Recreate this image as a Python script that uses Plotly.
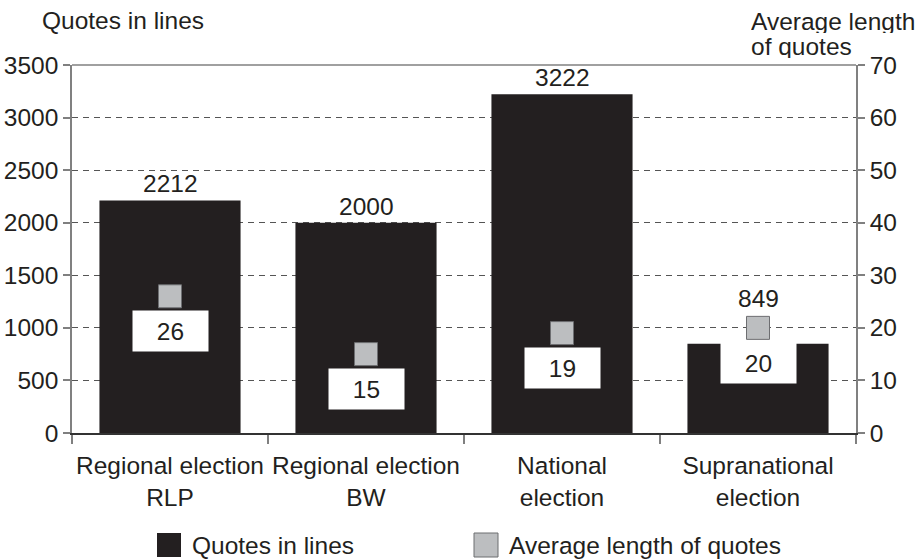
import plotly.graph_objects as go

categories = ["Regional election<br>RLP", "Regional election<br>BW", "National<br>election", "Supranational<br>election"]
quotes_in_lines = [2212, 2000, 3222, 849]
avg_length = [26, 15, 19, 20]

left_ticks = [0, 500, 1000, 1500, 2000, 2500, 3000, 3500]
right_ticks = [0, 10, 20, 30, 40, 50, 60, 70]

FONT = "Liberation Sans, Arial, Helvetica, sans-serif"
FS = 24.5
BAR_COLOR = "#231f20"
SQ_FILL = "#bcbec0"
SQ_LINE = "#6d6e71"
SQ_SIZE = 23

W, H = 923, 559
L, R, T, B = 72, 67, 65, 126
PW, PH = W - L - R, H - T - B
Y1MAX, Y2MAX = 3500, 70

def px(x):
    return (x - L) / PW

def py(y):
    return (H - B - y) / PH

fig = go.Figure()

fig.add_trace(go.Bar(
    x=categories, y=quotes_in_lines, width=0.72,
    marker=dict(color=BAR_COLOR, line=dict(width=0)),
    showlegend=False, yaxis="y", hoverinfo="skip",
))

fig.add_trace(go.Scatter(
    x=categories, y=avg_length, mode="markers", yaxis="y2",
    marker=dict(symbol="square", size=SQ_SIZE, color=SQ_FILL, line=dict(color=SQ_LINE, width=1)),
    showlegend=False, cliponaxis=False, hoverinfo="skip",
))

annotations = []
# value labels above bars (lifted above the square when it sits higher than the bar)
sq_half_units = (SQ_SIZE / 2 + 1) * Y1MAX / PH
for c, q, a in zip(categories, quotes_in_lines, avg_length):
    sq_top = a * Y1MAX / Y2MAX + sq_half_units
    anchor = max(q, sq_top)
    annotations.append(dict(
        x=c, y=anchor, xref="x", yref="y", text=str(q), showarrow=False,
        yanchor="bottom", yshift=1, font=dict(size=FS, color="#231f20", family=FONT),
    ))
# average length labels in white boxes
for c, v in zip(categories, avg_length):
    annotations.append(dict(
        x=c, y=v, xref="x", yref="y2", text=str(v), showarrow=False,
        bgcolor="white", width=75, height=40, borderpad=0,
        yanchor="top", yshift=-14, font=dict(size=FS, color="#231f20", family=FONT),
    ))

def label(x, y, text, h=None):
    d = dict(x=px(x), y=py(y), xref="paper", yref="paper", text=text,
             showarrow=False, xanchor="left", yanchor="middle",
             font=dict(size=FS, color="#231f20", family=FONT))
    if h:
        d["height"] = h
    return d

annotations.append(label(40, 21, "Quotes in lines"))
annotations.append(label(749, 21, "Average length", 24))
annotations.append(label(749, 46, "of quotes", 24))
annotations.append(label(190, 545, "Quotes in lines"))
annotations.append(label(507, 545, "Average length of quotes"))

shapes = [
    dict(type="line", xref="paper", yref="paper", x0=0, x1=1, y0=1, y1=1,
         line=dict(color="#808080", width=1.5)),
    dict(type="rect", xref="paper", yref="paper", x0=px(157), x1=px(181), y0=py(557), y1=py(533),
         fillcolor=BAR_COLOR, line=dict(width=0)),
    dict(type="rect", xref="paper", yref="paper", x0=px(474), x1=px(498), y0=py(557), y1=py(533),
         fillcolor=SQ_FILL, line=dict(color=SQ_LINE, width=1)),
]

fig.update_layout(
    width=W, height=H,
    margin=dict(l=L, r=R, t=T, b=B, pad=0, autoexpand=False),
    paper_bgcolor="white", plot_bgcolor="white",
    font=dict(family=FONT, size=FS, color="#231f20"),
    showlegend=False,
    xaxis=dict(
        type="category", tickson="boundaries", ticks="outside", ticklen=9, tickwidth=1.5,
        tickcolor="#808080", showline=True, linecolor="#333333", linewidth=1.5,
        showgrid=False, tickfont=dict(size=FS, family=FONT, color="#231f20"),
        ticklabelstandoff=10, tickangle=0, automargin=False, range=[-0.5, 3.5],
    ),
    yaxis=dict(
        range=[0, Y1MAX], tickvals=left_ticks, ticks="outside", ticklen=7, tickwidth=1.5,
        tickcolor="#808080", showline=True, linecolor="#808080", linewidth=1.5,
        showgrid=True, gridcolor="#555555", griddash="6px,5px", gridwidth=1,
        zeroline=False, automargin=False, tickfont=dict(size=FS, family=FONT, color="#231f20"),
    ),
    yaxis2=dict(
        range=[0, Y2MAX], tickvals=right_ticks, overlaying="y", side="right",
        ticks="outside", ticklen=7, tickwidth=1.5, tickcolor="#808080",
        showline=True, linecolor="#808080", linewidth=1.5, showgrid=False, zeroline=False,
        automargin=False, tickfont=dict(size=FS, family=FONT, color="#231f20"),
    ),
    annotations=annotations,
    shapes=shapes,
)

fig.write_html("out.html")
